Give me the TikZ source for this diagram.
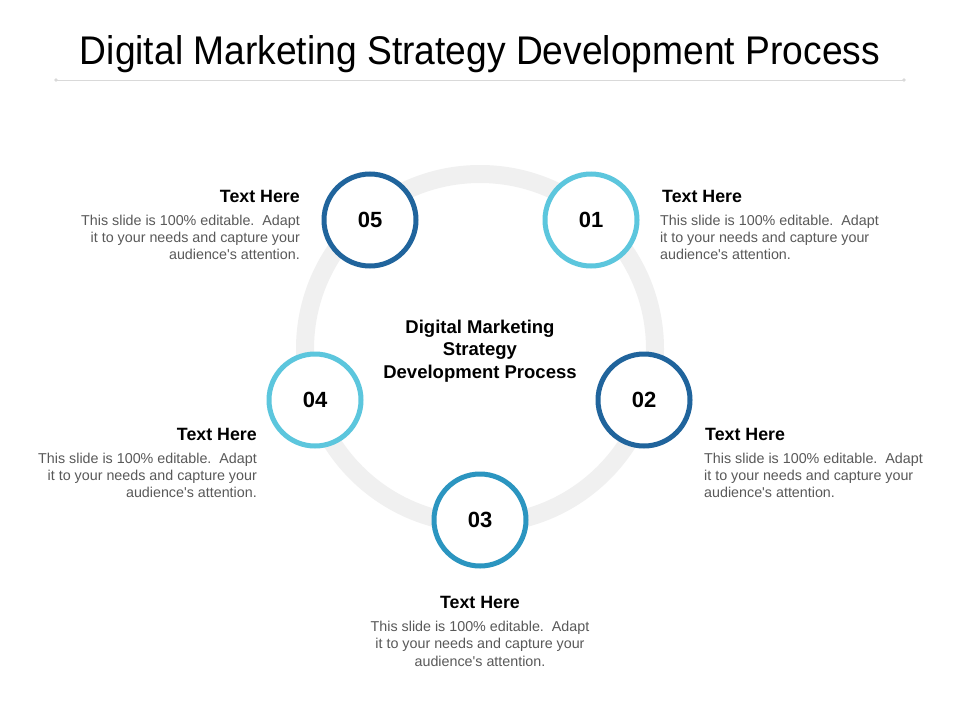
\documentclass[tikz,border=0pt]{standalone}
\usepackage{fontspec}
\setmainfont{Liberation Sans}
\usepackage{graphicx}
\definecolor{ringgray}{HTML}{F0F0F0}
\definecolor{darkblue}{HTML}{20649C}
\definecolor{lightblue}{HTML}{5CC6DD}
\definecolor{midblue}{HTML}{2B95C0}
\definecolor{bodygray}{HTML}{595959}
\definecolor{rulegray}{HTML}{D9D9D9}
\newcommand{\bodytext}{This slide is 100\% editable.\ \ Adapt\\it to your needs and capture your\\audience\textquotesingle s attention.}
\tikzset{
  numcircle/.style={circle, draw=#1, line width=5pt, fill=white, minimum size=92pt, inner sep=0pt,
    font=\fontsize{22}{26}\selectfont\bfseries},
  headtxt/.style={inner sep=0pt, font=\fontsize{17.8}{20}\selectfont\bfseries, text=black},
  bodytxt/.style={inner sep=0pt, font=\fontsize{14.3}{17.2}\selectfont, text=bodygray},
}
\begin{document}
\begin{tikzpicture}[x=1pt,y=-1pt]
\useasboundingbox[fill=white] (0,0) rectangle (960,720);
% title
\node[inner sep=0pt, anchor=base, font=\fontsize{40}{44}\selectfont] (title) at (480,64)
  {\scalebox{0.93}[1]{Digital Marketing Strategy Development Process}};
\coordinate (ruleL) at (56,80);
\coordinate (ruleR) at (904,80);
\draw[rulegray, line width=1pt] (ruleL) -- (ruleR);
\fill[rulegray] (ruleL) circle (1.8);
\fill[rulegray] (ruleR) circle (1.8);
% ring
\coordinate (ctr) at (480,349);
\draw[ringgray, line width=18pt] (ctr) circle (175);
% centre text
\node[inner sep=0pt, anchor=base, align=center, font=\fontsize{18.5}{22.5}\selectfont\bfseries] (centre) at (480,378)
  {Digital Marketing\\Strategy\\Development Process};
% circles
\node[numcircle=lightblue] (c1) at (591,220) {01};
\node[numcircle=darkblue] (c2) at (644,400) {02};
\node[numcircle=midblue] (c3) at (480,520) {03};
\node[numcircle=lightblue] (c4) at (315,400) {04};
\node[numcircle=darkblue] (c5) at (370,220) {05};
% text blocks
\node[headtxt, anchor=base west] (h1) at (662,202.5) {Text Here};
\node[bodytxt, anchor=base west, align=left] (b1) at (660,259.5) {\bodytext};
\node[headtxt, anchor=base west] (h2) at (705,440.5) {Text Here};
\node[bodytxt, anchor=base west, align=left] (b2) at (704,497.5) {\bodytext};
\node[headtxt, anchor=base] (h3) at (480,608.5) {Text Here};
\node[bodytxt, anchor=base, align=center] (b3) at (480,666) {\bodytext};
\node[headtxt, anchor=base east] (h4) at (257,440.5) {Text Here};
\node[bodytxt, anchor=base east, align=right] (b4) at (257,497.5) {\bodytext};
\node[headtxt, anchor=base east] (h5) at (300,202.5) {Text Here};
\node[bodytxt, anchor=base east, align=right] (b5) at (300,259.5) {\bodytext};
\end{tikzpicture}
\end{document}
